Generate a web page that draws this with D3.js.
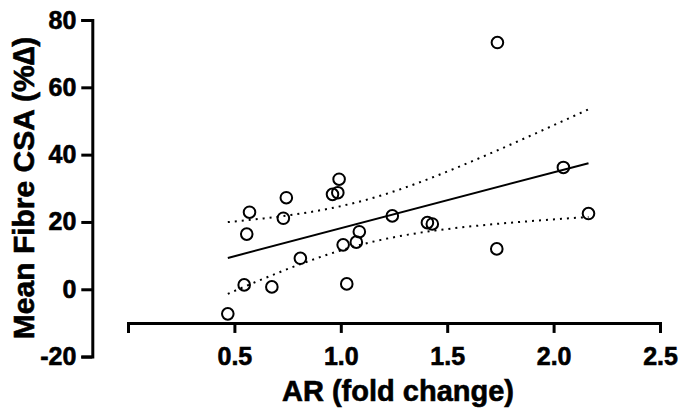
<!DOCTYPE html>
<html>
<head>
<meta charset="utf-8">
<script src="https://cdn.jsdelivr.net/npm/d3@7"></script>
<style>
  body { margin: 0; background: #fff; }
  svg text { font-family: "Liberation Sans", Arial, sans-serif; font-weight: bold; fill: #000;
             stroke: #000; stroke-width: 0.6px; }
</style>
</head>
<body>
<div class="chart"></div>
<script>
// values
var arFold = [0.571, 0.558, 0.744, 0.730, 0.992, 0.961, 0.986, 1.087, 1.011, 1.073, 0.810,
              0.546, 0.676, 1.028, 0.469, 1.242, 1.407, 1.430, 1.733, 2.164, 2.046, 1.736];
var csaChange = [22.9, 16.4, 27.2, 21.1, 32.7, 28.2, 28.7, 17.1, 13.2, 14.0, 9.2,
                 1.3, 0.7, 1.6, -7.3, 21.8, 19.8, 19.4, 12.0, 22.5, 36.2, 73.3];
var xTicks = [0.5, 1.0, 1.5, 2.0, 2.5];
var yTicks = [-20, 0, 20, 40, 60, 80];

var width = 683, height = 418;
var x = d3.scaleLinear().domain([0, 2.5]).range([128, 660]);
var y = d3.scaleLinear().domain([-20, 80]).range([356.6, 20]);

var svg = d3.select(".chart").append("svg").attr("width", width).attr("height", height);

// linear fit + 95% confidence band
function fit(xs, ys) {
    var n = xs.length, mx = d3.mean(xs), my = d3.mean(ys);
    var sxx = 0, sxy = 0;
    for (var i = 0; i < n; i++) { sxx += (xs[i]-mx)*(xs[i]-mx); sxy += (xs[i]-mx)*(ys[i]-my); }
    var b = sxy / sxx, a = my - b*mx, ss = 0;
    for (var i = 0; i < n; i++) { var r = ys[i] - (a + b*xs[i]); ss += r*r; }
    var s = Math.sqrt(ss / (n-2));
    var t = 2.086; // t(0.975, 20 df)
    return { a: a, b: b, band: function(v) {
        return t * s * Math.sqrt(1/n + (v-mx)*(v-mx)/sxx);
    }};
}

var f = fit(arFold, csaChange);
var xmin = d3.min(arFold), xmax = d3.max(arFold);
var grid = d3.range(0, 41).map(function(i){ return xmin + (xmax-xmin)*i/40; });

var line = d3.line().x(function(d){ return x(d[0]); }).y(function(d){ return y(d[1]); });

svg.append("path")
    .datum([[xmin, f.a + f.b*xmin], [xmax, f.a + f.b*xmax]])
    .attr("d", line).attr("fill", "none").attr("stroke", "#000").attr("stroke-width", 2);

[1, -1].forEach(function(sign){
    svg.append("path")
        .datum(grid.map(function(v){ return [v, f.a + f.b*v + sign*f.band(v)]; }))
        .attr("d", line).attr("fill", "none").attr("stroke", "#000")
        .attr("stroke-width", 2).attr("stroke-dasharray", "2,5");
});

// points
svg.selectAll(".pt")
    .data(arFold)
    .enter().append("circle")
    .attr("class", "pt")
    .attr("cx", function(d){ return x(d); })
    .attr("cy", function(d, i){ return y(csaChange[i]); })
    .attr("r", 5.8)
    .attr("fill", "none").attr("stroke", "#000").attr("stroke-width", 2);

// axes
var yAxis = d3.axisLeft(y).tickValues(yTicks)
    .tickFormat(function(d){ return String(d); })
    .tickSizeOuter(0).tickSize(11).tickPadding(5);
var gy = svg.append("g").attr("transform", "translate(92.3,0)").call(yAxis);
var xAxis = d3.axisBottom(x).tickValues(xTicks).tickFormat(d3.format(".1f"))
    .tickSizeOuter(0).tickSize(10).tickPadding(14);
var gx = svg.append("g").attr("transform", "translate(0," + y(-10) + ")").call(xAxis);

[gx, gy].forEach(function(g){
    g.select(".domain").attr("stroke", "#000").attr("stroke-width", 3);
    g.selectAll(".tick line").attr("stroke", "#000").attr("stroke-width", 3);
    g.selectAll(".tick text").style("font-size", "25px").attr("fill", "#000");
});

svg.append("text")
    .attr("x", 398).attr("y", 401)
    .attr("text-anchor", "middle").style("font-size", "29px")
    .text("AR (fold change)");

svg.append("text")
    .attr("transform", "translate(34," + 188 + ") rotate(-90)")
    .attr("text-anchor", "middle").style("font-size", "30px")
    .text("Mean Fibre CSA (%∆)");
</script>
</body>
</html>
